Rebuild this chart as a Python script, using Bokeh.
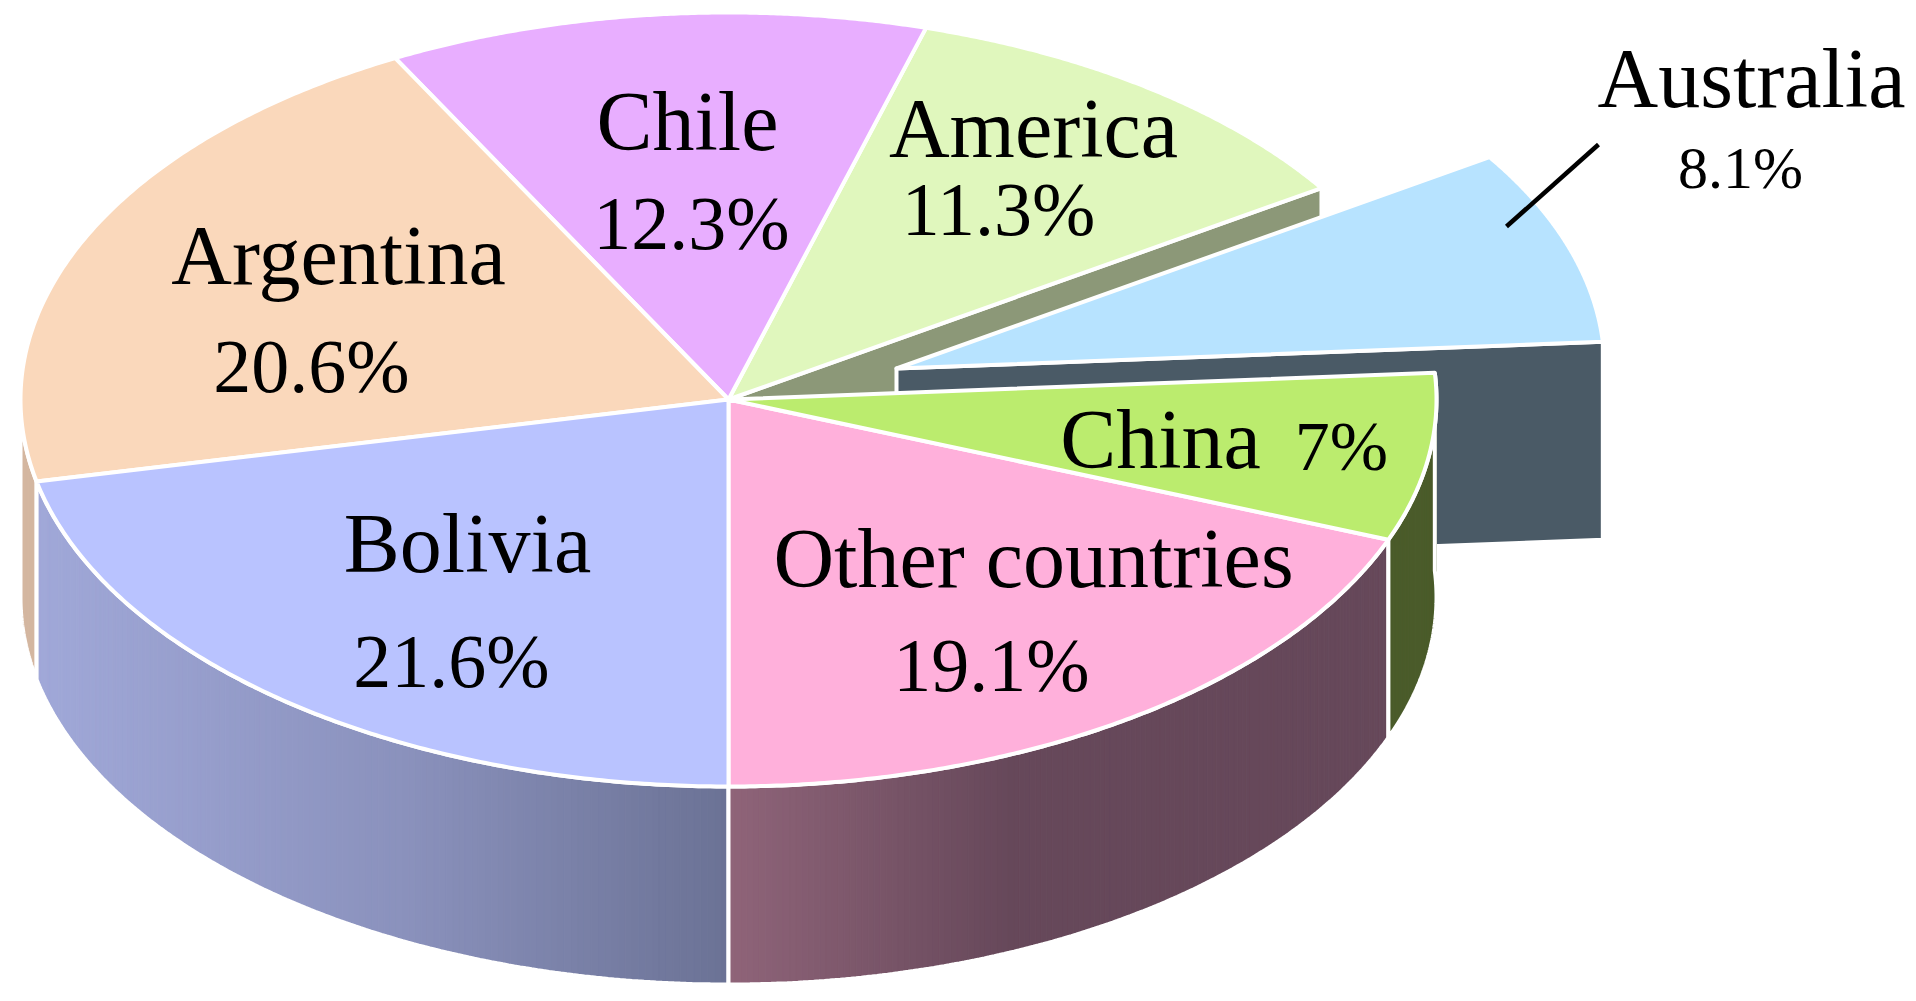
import numpy as np
from bokeh.plotting import figure
from bokeh.embed import file_html
from bokeh.resources import INLINE
from bokeh.core.properties import value

# Data, counter-clockwise from the bottom of the pie
countries = ["Other countries", "China", "Australia", "America", "Chile", "Argentina", "Bolivia"]
shares = [19.1, 7.0, 8.1, 11.3, 12.3, 20.6, 21.6]
top_colors = ["#ffb0db", "#bbec6e", "#b7e3ff", "#e0f7bd", "#e8aeff", "#fad8bb", "#b9c3ff"]

# Geometry in reference pixels
CX, CY, RX, RY, DEPTH = 728.0, 399.0, 708.0, 387.0, 198.0
EXPLODE_X, EXPLODE_Y = 168.0, -31.0
WHITE = 4.0

# Labels
label_texts = ["Chile", "12.3%", "America", "11.3%", "Argentina", "20.6%", "Bolivia", "21.6%",
               "Other countries", "19.1%", "China", "7%", "Australia", "8.1%"]
label_x = [687, 691, 1033, 998, 338, 311, 467, 451, 1033, 991, 1160, 1341, 1751, 1740]
label_y = [121, 222, 128, 208, 255, 365, 543, 660, 558, 664, 439, 446, 78, 167]
label_sizes = ["84px", "76px", "84px", "76px", "84px", "76px", "84px", "76px",
               "84px", "76px", "84px", "70px", "84px", "60px"]

p = figure(width=1908, height=993, x_range=(0, 1908), y_range=(993, 0),
           output_backend="svg", toolbar_location=None, min_border=0)
p.axis.visible = False
p.grid.visible = False
p.outline_line_color = None
p.background_fill_color = "white"

cum = np.cumsum([0] + shares) / sum(shares) * 360 - 90
spans = {c: (cum[i], cum[i + 1]) for i, c in enumerate(countries)}


def arc(a0, a1, cx=CX, cy=CY, n=160):
    t = np.radians(np.linspace(a0, a1, n))
    return cx + RX * np.cos(t), cy - RY * np.sin(t)


def top(name, color, cx=CX, cy=CY):
    x, y = arc(*spans[name], cx, cy)
    p.patch(np.r_[cx, x], np.r_[cy, y], fill_color=color, line_color="white",
            line_width=WHITE, line_join="round")


def cut_face(angle, color, cx=CX, cy=CY):
    t = np.radians(angle)
    ex, ey = cx + RX * np.cos(t), cy - RY * np.sin(t)
    p.patch([cx, ex, ex, cx], [cy, ey, ey + DEPTH, cy + DEPTH], fill_color=color,
            line_color="white", line_width=WHITE, line_join="round")


def outer_side(a0, a1, stops):
    """Outer wall between two angles; stops = (x, colour) gradient along x."""
    edges = np.linspace(a0, a1, 140)
    sx = [s[0] for s in stops]
    rgb = np.array([[int(s[1][i:i + 2], 16) for i in (1, 3, 5)] for s in stops], float)
    for u, v in zip(edges[:-1], edges[1:]):
        x, y = arc(u, v, n=4)
        xm = x.mean()
        c = [np.interp(xm, sx, rgb[:, k]) for k in range(3)]
        col = "#%02x%02x%02x" % tuple(int(round(q)) for q in c)
        p.patch(np.r_[x, x[::-1]], np.r_[y, y[::-1] + DEPTH], fill_color=col,
                line_color=col, line_width=1)
    x, y = arc(a0, a1)
    p.patch(np.r_[x, x[::-1]], np.r_[y, y[::-1] + DEPTH], fill_color=None,
            line_color="white", line_width=WHITE)


# Exploded wedge and the faces behind it
cut_face(spans["America"][0], "#8c9878")
ax, ay = CX + EXPLODE_X, CY + EXPLODE_Y
cut_face(spans["Australia"][0], "#4a5a66", ax, ay)
top("Australia", top_colors[2], ax, ay)

# Outer walls
outer_side(180, spans["Argentina"][1], [(20, "#d4b7a0"), (40, "#d4b7a0")])
outer_side(*spans["Bolivia"], [(39, "#a0a8d8"), (408, "#8a91bc"), (728, "#6b7295")])
outer_side(*spans["Other countries"], [(728, "#8f6479"), (1011, "#66485a"), (1392, "#66485a")])
outer_side(*spans["China"], [(1392, "#4b5c2b"), (1436, "#4b5c2b")])

# Top faces
for name, color in zip(countries, top_colors):
    if name != "Australia":
        top(name, color)

# Leader line
p.line([1598, 1506], [144, 226], line_color="black", line_width=4.5)

# Texts
p.text(label_x, label_y, text=label_texts, text_font=value("Liberation Serif"),
       text_font_size=label_sizes, text_align="center", text_baseline="alphabetic",
       text_color="black")

open("out.html", "w").write(file_html(p, INLINE))
